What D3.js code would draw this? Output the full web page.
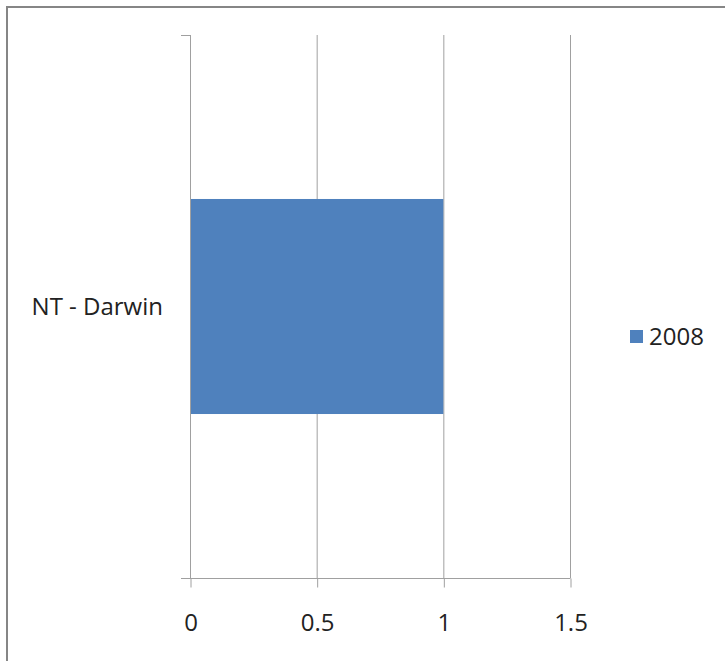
<!DOCTYPE html>
<html><head><meta charset="utf-8">
<script src="https://cdn.jsdelivr.net/npm/d3@7"></script>
<style>html,body{margin:0;padding:0;background:#fff;}svg{display:block;}</style>
</head><body>
<script>
const categories = ["NT - Darwin"];
const series = ["2008"];
const values2008 = [1];
const xTicks = [0, 0.5, 1, 1.5];

const W = 725, H = 661;
const svg = d3.select("body").append("svg").attr("width", W).attr("height", H);
const font = "'Open Sans', sans-serif";
const fs = 24;

svg.append("rect").attr("x", 7).attr("y", 7).attr("width", 740).attr("height", 680)
  .attr("fill", "#fff").attr("stroke", "#868686").attr("stroke-width", 2);

const x = d3.scaleLinear().domain([0, 1.5]).range([190, 570]);
const y = d3.scaleBand().domain(categories).range([35, 578]).paddingInner(0.604).paddingOuter(0.302).align(0.5);

// gridlines
svg.append("g").selectAll("line").data(xTicks.slice(1)).join("line")
  .attr("x1", d => x(d) + 0.5).attr("x2", d => x(d) + 0.5)
  .attr("y1", 35).attr("y2", 578)
  .attr("stroke", "#a0a0a0").attr("stroke-width", 1);

// bars
svg.append("g").selectAll("rect").data(categories).join("rect")
  .attr("x", x(0)).attr("y", d => y(d))
  .attr("width", (d, i) => x(values2008[i]) - x(0))
  .attr("height", y.bandwidth())
  .attr("fill", "#4f81bd");

// x axis
const xAxis = d3.axisBottom(x).tickValues(xTicks).tickFormat(d3.format("~g")).tickSize(9).tickSizeOuter(0).tickPadding(26);
const gx = svg.append("g").attr("transform", "translate(0.5,578.5)").call(xAxis);
gx.select(".domain").attr("stroke", "#a0a0a0").attr("d", "M" + (x(0) - 9.5) + ",0H" + x(1.5));
gx.selectAll(".tick line").attr("stroke", "#a0a0a0");
gx.selectAll("text").attr("font-family", font).attr("font-size", fs).attr("fill", "#222");

// y axis
svg.append("line").attr("x1", 190.5).attr("x2", 190.5).attr("y1", 35).attr("y2", 578)
  .attr("stroke", "#a0a0a0");
svg.append("g").selectAll("line").data([35, 578]).join("line")
  .attr("x1", 181).attr("x2", 190).attr("y1", d => d + 0.5).attr("y2", d => d + 0.5)
  .attr("stroke", "#a0a0a0");

svg.append("g").selectAll("text").data(categories).join("text")
  .attr("x", 163).attr("y", d => y(d) + y.bandwidth() / 2)
  .attr("dy", "0.35em").attr("text-anchor", "end")
  .attr("font-family", font).attr("font-size", fs).attr("fill", "#222")
  .text(d => d);

// legend
const lg = svg.append("g").attr("transform", "translate(630,330)");
lg.append("rect").attr("width", 13).attr("height", 13).attr("fill", "#4f81bd");
lg.append("text").attr("x", 19).attr("y", 6.5).attr("dy", "0.35em")
  .attr("font-family", font).attr("font-size", fs).attr("fill", "#222").text(series[0]);
</script>
</body></html>
